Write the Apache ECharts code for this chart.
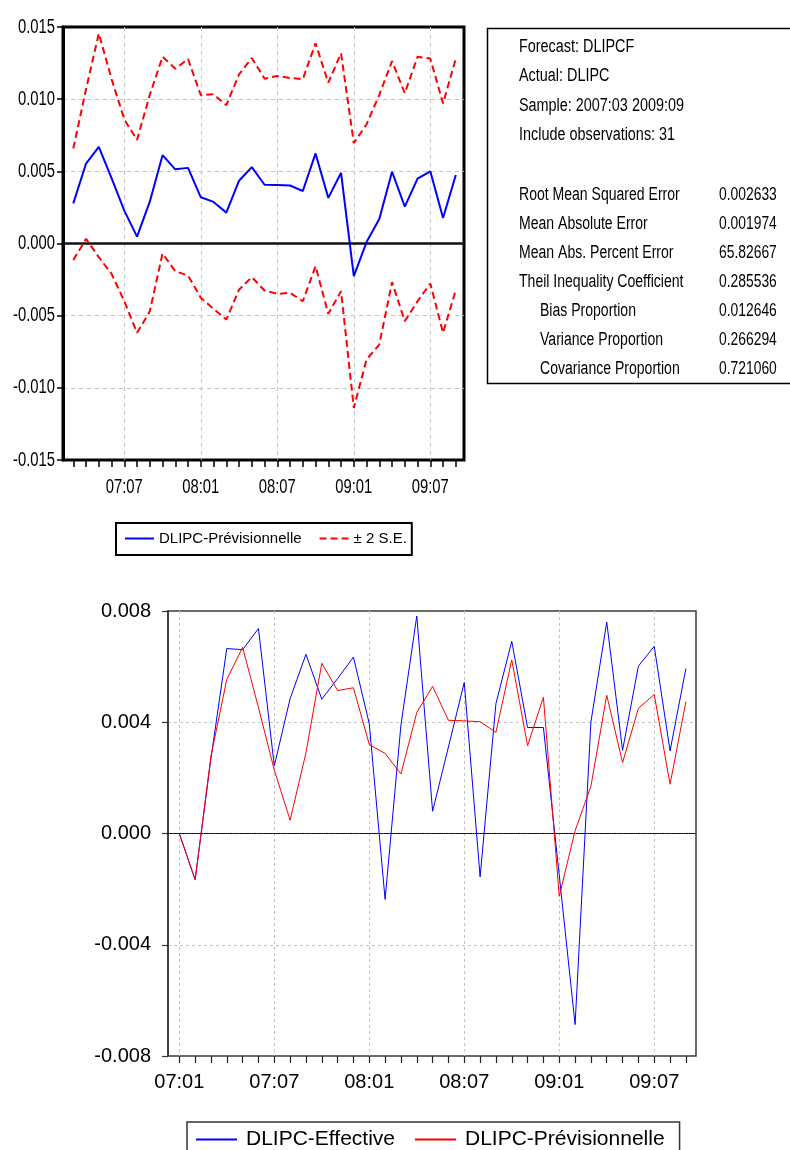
<!DOCTYPE html>
<html>
<head>
<meta charset="utf-8">
<script src="https://cdn.jsdelivr.net/npm/echarts@6/dist/echarts.min.js"></script>
<style>
  html, body { margin: 0; padding: 0; background: #fff; }
  #chart { width: 790px; height: 1150px; }
</style>
</head>
<body>
<div id="chart"></div>
<script>
// ---- Forecast period: 2007:03 .. 2009:09 (31 monthly observations) ----
const monthsForecast = [
  '07:03','07:04','07:05','07:06','07:07','07:08','07:09','07:10','07:11','07:12',
  '08:01','08:02','08:03','08:04','08:05','08:06','08:07','08:08','08:09','08:10','08:11','08:12',
  '09:01','09:02','09:03','09:04','09:05','09:06','09:07','09:08','09:09'
];
const forecastXLabels = ['07:07', '08:01', '08:07', '09:01', '09:07'];
const forecastYTicks = [0.015, 0.010, 0.005, 0.000, -0.005, -0.010, -0.015];

// DLIPCF: forecast of the inflation rate (first difference of log CPI)
const forecast = [
  0.00278, 0.00554, 0.00669, 0.00453, 0.00228, 0.00048, 0.00290, 0.00612, 0.00514, 0.00524,
  0.00320, 0.00288, 0.00214, 0.00435, 0.00529, 0.00407, 0.00405, 0.00402, 0.00364, 0.00624, 0.00316, 0.00490,
  -0.00226, 0.00010, 0.00170, 0.00497, 0.00255, 0.00450, 0.00500, 0.00177, 0.00474
];

// Upper and lower bounds of the +/- 2 standard error band
const bandUpper = [
  0.00658, 0.01070, 0.01455, 0.01140, 0.00860, 0.00718, 0.01030, 0.01294, 0.01211, 0.01278,
  0.01027, 0.01034, 0.00958, 0.01172, 0.01285, 0.01142, 0.01161, 0.01147, 0.01138, 0.01387, 0.01114, 0.01318,
  0.00695, 0.00826, 0.01030, 0.01264, 0.01041, 0.01294, 0.01281, 0.00971, 0.01281
];
const bandLower = [
  -0.00115, 0.00032, -0.00095, -0.00210, -0.00400, -0.00619, -0.00470, -0.00069, -0.00192, -0.00222,
  -0.00376, -0.00453, -0.00527, -0.00320, -0.00233, -0.00326, -0.00349, -0.00342, -0.00400, -0.00157, -0.00487, -0.00330,
  -0.01139, -0.00804, -0.00700, -0.00268, -0.00538, -0.00400, -0.00277, -0.00619, -0.00323
];

// ---- Comparison period: 2007:01 .. 2009:09 (33 months) ----
const monthsCompare = [
  '07:01','07:02','07:03','07:04','07:05','07:06','07:07','07:08','07:09','07:10','07:11','07:12',
  '08:01','08:02','08:03','08:04','08:05','08:06','08:07','08:08','08:09','08:10','08:11','08:12',
  '09:01','09:02','09:03','09:04','09:05','09:06','09:07','09:08','09:09'
];

// Observed DLIPC
const actual = [
  0.00000, -0.00166, 0.00270, 0.00665, 0.00661, 0.00737, 0.00243, 0.00485, 0.00644, 0.00483, 0.00557, 0.00634,
  0.00395, -0.00237, 0.00390, 0.00782, 0.00080, 0.00311, 0.00543, -0.00156, 0.00467, 0.00691, 0.00381, 0.00381,
  -0.00150, -0.00687, 0.00401, 0.00760, 0.00299, 0.00602, 0.00673, 0.00297, 0.00593
];
// The forecast series starts in 2007:03; the two earlier months are the observed values
const previsionHead = [0.00000, -0.00166];
const previsionCompare = previsionHead.concat(forecast);

// ---- Forecast evaluation table ----
const headerLines = [
  'Forecast: DLIPCF',
  'Actual: DLIPC',
  'Sample: 2007:03 2009:09',
  'Include observations: 31'
];
const statNames = [
  'Root Mean Squared Error',
  'Mean Absolute Error',
  'Mean Abs. Percent Error',
  'Theil Inequality Coefficient',
  'Bias Proportion',
  'Variance Proportion',
  'Covariance Proportion'
];
const statValues = ['0.002633', '0.001974', '65.82667', '0.285536', '0.012646', '0.266294', '0.721060'];

// ---- Styling ----
const SANS = "'Liberation Sans',Arial,sans-serif";
const GRID_GRAY = '#c4c4c4';

const fmt3 = v => (Math.abs(v) < 1e-12 ? 0 : v).toFixed(3);

// condensed text element (horizontally scaled about its anchor point)
function narrowText(text, x, y, size, scale, align) {
  return {
    type: 'text', x: x, y: y, scaleX: scale, z: 5,
    style: {
      text: text, font: size + 'px ' + SANS, fill: '#000',
      align: align || 'left', verticalAlign: 'middle'
    }
  };
}

// the comparison chart's forecast series carries a trailing space so that each
// legend picks its own line style; the legend formatter trims it away
const PREV_TOP = 'DLIPC-Prévisionnelle';
const PREV_BOTTOM = 'DLIPC-Prévisionnelle ';

const chart = echarts.init(document.getElementById('chart'), null, { renderer: 'canvas' });

chart.setOption({
  backgroundColor: '#fff',
  animation: false,
  grid: [
    // forecast chart: frame and plotting area
    { left: 63, top: 27, width: 401, height: 433, show: true, borderColor: '#000', borderWidth: 3, backgroundColor: 'transparent' },
    { left: 73.3, top: 27, width: 382.5, height: 433 },
    // comparison chart: frame and plotting area
    { left: 168, top: 611, width: 528, height: 445, show: true, borderColor: '#3a3a3a', borderWidth: 1.5, backgroundColor: 'transparent' },
    { left: 179.3, top: 611, width: 506.6, height: 445 }
  ],
  xAxis: [
    { // zero line of the forecast chart
      gridIndex: 0, type: 'value', min: 0, max: 1,
      axisLine: { show: true, onZero: true, lineStyle: { color: '#111', width: 2.5 } },
      axisTick: { show: false }, axisLabel: { show: false }, splitLine: { show: false }
    },
    {
      gridIndex: 1, type: 'category', data: monthsForecast, boundaryGap: false,
      axisLine: { show: false, onZero: false },
      axisTick: { show: true, interval: 0, length: 7, lineStyle: { color: '#000', width: 1.5 } },
      axisLabel: { show: false },
      splitLine: { show: true, interval: i => i % 6 === 4, lineStyle: { color: GRID_GRAY, type: [4, 4], width: 1 } }
    },
    { // zero line of the comparison chart
      gridIndex: 2, type: 'value', min: 0, max: 1,
      axisLine: { show: true, onZero: true, lineStyle: { color: '#000', width: 1.2, type: 'dotted' } },
      axisTick: { show: false }, axisLabel: { show: false }, splitLine: { show: false }
    },
    {
      gridIndex: 3, type: 'category', data: monthsCompare, boundaryGap: false,
      axisLine: { show: false, onZero: false },
      axisTick: { show: true, interval: 0, length: 7, lineStyle: { color: '#222', width: 1.2 } },
      axisLabel: {
        interval: i => i % 6 === 0, margin: 16,
        fontFamily: SANS, fontSize: 20, color: '#000'
      },
      splitLine: { show: true, interval: i => i % 6 === 0, lineStyle: { color: GRID_GRAY, type: [3, 3], width: 1 } }
    }
  ],
  yAxis: [
    {
      gridIndex: 0, type: 'value', min: -0.015, max: 0.015, interval: 0.005,
      axisLine: { show: true, lineStyle: { color: '#000', width: 3 } },
      axisTick: { show: true, length: 6, lineStyle: { color: '#000', width: 1.5 } },
      axisLabel: { show: false },
      splitLine: { show: true, showMinLine: false, showMaxLine: false, lineStyle: { color: GRID_GRAY, type: [4, 4], width: 1 } }
    },
    { gridIndex: 1, type: 'value', min: -0.015, max: 0.015, show: false, splitLine: { show: false } },
    {
      gridIndex: 2, type: 'value', min: -0.008, max: 0.008, interval: 0.004,
      axisLine: { show: true, lineStyle: { color: '#333', width: 1.5 } },
      axisTick: { show: true, length: 6, lineStyle: { color: '#333', width: 1.2 } },
      axisLabel: { formatter: fmt3, margin: 17, fontFamily: SANS, fontSize: 20, color: '#000' },
      splitLine: { show: true, showMinLine: false, showMaxLine: false, lineStyle: { color: GRID_GRAY, type: [3, 3], width: 1 } }
    },
    { gridIndex: 3, type: 'value', min: -0.008, max: 0.008, show: false, splitLine: { show: false } }
  ],
  legend: [
    {
      left: 116, top: 523, orient: 'horizontal',
      data: [PREV_TOP, '± 2 S.E.'],
      itemWidth: 29, itemHeight: 12, itemGap: 17,
      selectedMode: false,
      itemStyle: { opacity: 0 },
      textStyle: { fontFamily: SANS, fontSize: 15, color: '#000' },
      borderColor: '#000', borderWidth: 2, borderRadius: 0,
      padding: [8, 5, 9, 8], backgroundColor: '#fff'
    },
    {
      left: 187, top: 1122, orient: 'horizontal',
      data: ['DLIPC-Effective', PREV_BOTTOM],
      formatter: name => name.trim(),
      itemWidth: 41, itemHeight: 12, itemGap: 19,
      selectedMode: false,
      itemStyle: { opacity: 0 },
      textStyle: { fontFamily: SANS, fontSize: 21, color: '#000', padding: [0, 0, 0, 4] },
      borderColor: '#333', borderWidth: 1.5, borderRadius: 0,
      padding: [7, 15, 10, 8], backgroundColor: '#fff'
    }
  ],
  series: [
    {
      name: PREV_TOP, type: 'line', xAxisIndex: 1, yAxisIndex: 1,
      data: forecast, symbol: 'none', z: 4,
      lineStyle: { color: '#0000ff', width: 2 }, itemStyle: { color: '#0000ff' }
    },
    {
      name: '± 2 S.E.', type: 'line', xAxisIndex: 1, yAxisIndex: 1,
      data: bandUpper, symbol: 'none', z: 3,
      lineStyle: { color: '#ff0000', width: 2, type: [7, 4] }, itemStyle: { color: '#ff0000' }
    },
    {
      name: '± 2 S.E.', type: 'line', xAxisIndex: 1, yAxisIndex: 1,
      data: bandLower, symbol: 'none', z: 3,
      lineStyle: { color: '#ff0000', width: 2, type: [7, 4] }, itemStyle: { color: '#ff0000' }
    },
    {
      name: 'DLIPC-Effective', type: 'line', xAxisIndex: 3, yAxisIndex: 3,
      data: actual, symbol: 'none', z: 3,
      lineStyle: { color: '#0000ff', width: 1 }, itemStyle: { color: '#0000ff' }
    },
    {
      name: PREV_BOTTOM, type: 'line', xAxisIndex: 3, yAxisIndex: 3,
      data: previsionCompare, symbol: 'none', z: 4,
      lineStyle: { color: '#ff0000', width: 1 }, itemStyle: { color: '#ff0000' }
    }
  ]
});

// ---- Condensed texts: forecast-chart tick labels and the evaluation table ----
const graphics = [];

// y tick labels, placed on the axis scale
forecastYTicks.forEach(v => {
  const y = chart.convertToPixel({ yAxisIndex: 0 }, v);
  graphics.push(narrowText(fmt3(v), 55, y, 20, 0.74, 'right'));
});
// x tick labels, placed on the category axis
forecastXLabels.forEach(m => {
  const x = chart.convertToPixel({ xAxisIndex: 1 }, m);
  graphics.push(narrowText(m, x, 487, 20, 0.74, 'center'));
});

// evaluation table
graphics.push({
  type: 'rect',
  shape: { x: 487.5, y: 28.5, width: 340, height: 355 },
  style: { fill: '#fff', stroke: '#000', lineWidth: 1.5 },
  z: 1
});
headerLines.forEach((t, k) => {
  graphics.push(narrowText(t, 519, 47 + 29.3 * k, 18, 0.8));
});
statNames.forEach((t, k) => {
  const y = 195 + 29 * k;
  graphics.push(narrowText(t, k >= 4 ? 540 : 519, y, 18, 0.78));
  graphics.push(narrowText(statValues[k], 719, y, 18, 0.77));
});

chart.setOption({ graphic: graphics });
</script>
</body>
</html>
